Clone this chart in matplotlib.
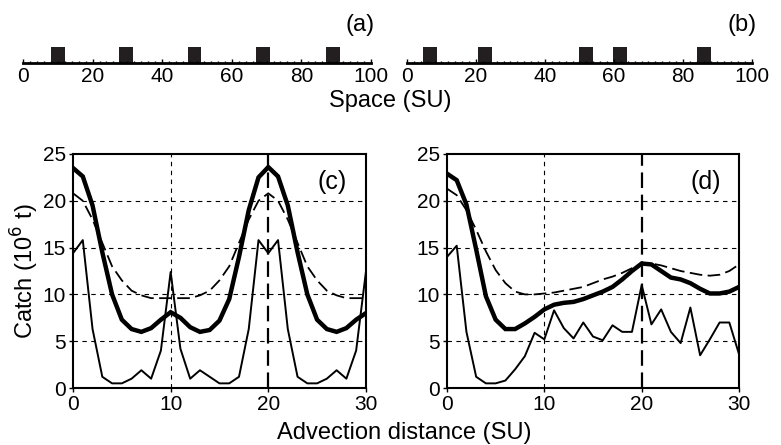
import numpy as np
import matplotlib
matplotlib.use('Agg')
import matplotlib.pyplot as plt

plt.rcParams['font.family'] = ['Liberation Sans', 'DejaVu Sans']
plt.rcParams['font.size'] = 15

# (a), (b) 공간상의 블록 위치 (시작점, 폭 4)
blocks_a = [8, 27.5, 47.3, 67, 87]
blocks_b = [4.6, 20.6, 49.9, 59.7, 84]
block_w = 4

# (c), (d) 어획량
dist = np.arange(0, 31)
c_thin = [14.4, 15.8, 6.3, 1.2, 0.5, 0.5, 1.0, 1.9, 1.0, 4.0, 12.4,
          4.2, 1.0, 1.9, 1.2, 0.5, 0.5, 1.2, 6.3, 15.8, 14.4,
          15.8, 6.3, 1.2, 0.5, 0.5, 1.0, 1.9, 1.0, 4.0, 12.4]
c_thick = [23.5, 22.6, 19.5, 14.5, 10.0, 7.3, 6.3, 6.0, 6.4, 7.3, 8.1,
           7.5, 6.5, 6.0, 6.2, 7.2, 9.5, 14.0, 19.0, 22.5, 23.6,
           22.6, 19.5, 14.5, 10.0, 7.3, 6.3, 6.0, 6.4, 7.3, 8.0]
c_dash = [20.8, 20.0, 18.0, 15.5, 13.0, 11.5, 10.4, 9.9, 9.6, 9.6, 9.6,
          9.6, 9.6, 9.9, 10.4, 11.5, 13.0, 15.5, 18.0, 20.0, 20.8,
          20.0, 18.0, 15.5, 13.0, 11.5, 10.4, 9.9, 9.6, 9.6, 9.6]
d_thin = [14.0, 15.2, 6.0, 1.2, 0.5, 0.5, 0.8, 2.0, 3.4, 5.9, 5.2,
          8.3, 6.4, 5.3, 7.0, 5.5, 5.1, 6.7, 6.0, 6.0, 11.0,
          6.8, 8.4, 6.0, 4.8, 8.6, 3.5, 5.2, 7.0, 7.0, 3.6]
d_thick = [22.9, 22.2, 19.6, 14.8, 9.8, 7.3, 6.3, 6.3, 6.9, 7.6, 8.4,
           8.9, 9.1, 9.2, 9.5, 9.9, 10.3, 10.8, 11.6, 12.5, 13.3,
           13.2, 12.5, 11.8, 11.6, 11.2, 10.6, 10.1, 10.1, 10.3, 10.8]
d_dash = [21.3, 20.6, 19.0, 16.9, 14.6, 12.6, 11.2, 10.3, 10.0, 10.0, 10.1,
          10.2, 10.4, 10.6, 10.8, 11.2, 11.6, 11.9, 12.3, 12.8, 13.3,
          13.3, 13.1, 12.8, 12.5, 12.3, 12.1, 12.0, 12.1, 12.5, 13.2]

fig = plt.figure(figsize=(7.81, 4.45), dpi=100)

# 상단 공간 패널
def space_panel(rect, starts, label):
    ax = fig.add_axes(rect)
    ax.bar(starts, [1] * len(starts), width=block_w, align='edge',
           color='#231f20', edgecolor='none')
    ax.set_xlim(0, 100)
    ax.set_ylim(0, 1)
    for s in ['top', 'left', 'right']:
        ax.spines[s].set_visible(False)
    ax.spines['bottom'].set_linewidth(2)
    ax.set_yticks([])
    ax.set_xticks([0, 20, 40, 60, 80, 100])
    ax.set_xticks(np.arange(0, 101, 2), minor=True)
    ax.tick_params(axis='x', direction='in', length=3, width=1, pad=3,
                   labelsize=15)
    ax.tick_params(axis='x', which='minor', direction='in', length=1.5, width=1)
    ax.text(0.97, 2.4, label, transform=ax.transAxes, ha='center',
            va='center', fontsize=17)
    return ax

space_panel([0.0294, 0.8584, 0.4456, 0.036], blocks_a, '(a)')
space_panel([0.5211, 0.8584, 0.4417, 0.036], blocks_b, '(b)')
fig.text(0.50, 0.772, 'Space (SU)', ha='center', va='center', fontsize=17)

# 하단 어획량 패널
def catch_panel(rect, thin, thick, dash, label):
    ax = fig.add_axes(rect)
    for y in [5, 10, 15, 20]:
        ax.axhline(y, color='k', lw=0.8, ls=(0, (4, 4)), zorder=1)
    ax.axvline(10, color='k', lw=0.8, ls=(0, (4, 4)), zorder=1)
    ax.axvline(20, color='k', lw=1.6, ls=(0, (7, 3)), zorder=1)
    ax.plot(dist, thin, color='k', lw=1.4, zorder=3)
    ax.plot(dist, thick, color='k', lw=3.2, zorder=3,
            solid_joinstyle='miter')
    ax.plot(dist, dash, color='k', lw=1.3, ls=(0, (7, 3)), zorder=3)
    ax.set_xlim(0, 30)
    ax.set_ylim(0, 25)
    ax.set_xticks([0, 10, 20, 30])
    ax.set_yticks([0, 5, 10, 15, 20, 25])
    for s in ax.spines.values():
        s.set_linewidth(1.5)
    ax.tick_params(direction='out', length=3, width=1, labelsize=15, pad=2)
    ax.text(0.885, 0.88, label, transform=ax.transAxes, ha='center',
            va='center', fontsize=18)
    return ax

catch_panel([0.0935, 0.128, 0.375, 0.526], c_thin, c_thick, c_dash, '(c)')
catch_panel([0.5723, 0.128, 0.374, 0.526], d_thin, d_thick, d_dash, '(d)')

fig.text(0.032, 0.39, 'Catch (10$^6$ t)', rotation=90, ha='center',
         va='center', fontsize=17)
fig.text(0.518, 0.028, 'Advection distance (SU)', ha='center', va='center',
         fontsize=17)

fig.savefig('out.png', dpi=100)
